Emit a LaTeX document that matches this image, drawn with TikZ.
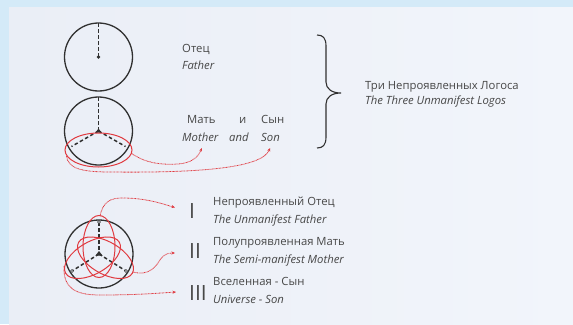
\documentclass[tikz,border=0pt]{standalone}
\usepackage{fontspec}
\setmainfont{Open Sans}
\usetikzlibrary{arrows.meta}
\definecolor{bandblue}{HTML}{D4EAF8}
\definecolor{panelL}{HTML}{EAEEF6}
\definecolor{panelR}{HTML}{F2F5FB}
\definecolor{ink}{HTML}{303030}
\definecolor{txt}{HTML}{474747}
\definecolor{redc}{HTML}{E03A40}
\begin{document}
\begin{tikzpicture}[x=1pt,y=-1pt,
  circ/.style={draw=ink, line width=1.3pt},
  dashln/.style={draw=ink, line width=1.5pt, dash pattern=on 3.5pt off 2.5pt},
  redell/.style={draw=redc, line width=1pt},
  redarrow/.style={draw=redc, line width=0.8pt, dash pattern=on 0.8pt off 0.6pt, -{Stealth[length=3.5pt,width=3pt]}},
  lbl/.style={anchor=base west, inner sep=0pt, text=txt, font=\fontsize{11.3}{13}\selectfont},
  ilbl/.style={anchor=base west, inner sep=0pt, text=txt, font=\fontsize{11.3}{13}\selectfont\itshape},
  roman/.style={anchor=base west, inner sep=0pt, text=txt, font=\fontsize{21}{21}\selectfont},
]
% background
\fill[bandblue] (0,0) rectangle (573,324);
\shade[left color=panelL, right color=panelR] (9,7) rectangle (573,324);
\useasboundingbox (0,0) rectangle (573,324);

% ---------- circle 1: Father
\coordinate (c1) at (98.5,57);
\draw[circ] (c1) circle[radius=34];
\path (c1) ++(0,-34) coordinate (t1);
\draw[dashln] (t1) -- (c1);
\fill[ink] (c1) circle[radius=1.8];

% ---------- circle 2: Mother and Son
\coordinate (c2) at (98.5,131);
\draw[circ] (c2) circle[radius=34];
\path (c2) ++(0,-34) coordinate (t2);
\path (c2) ++(-27,15.5) coordinate (l2);
\path (c2) ++(27,15.5) coordinate (r2);
\draw[dashln] (t2) -- (c2);
\draw[dashln] (c2) -- (l2);
\draw[dashln] (c2) -- (r2);
\fill[ink] (c2) ++(0,-2.5) -- ++(3,4) -- ++(-6,0) -- cycle;
\coordinate (e2) at (98.5,150);
\draw[redell] (e2) ellipse[x radius=33.5, y radius=17];

% ---------- circle 3: trefoil
\coordinate (c3) at (99,254);
\draw[circ] (c3) circle[radius=34];
\path (c3) ++(0,-32) coordinate (t3);
\path (c3) ++(-27,17) coordinate (l3);
\path (c3) ++(27,17) coordinate (r3);
\draw[dashln] (t3) -- (c3);
\draw[dashln] (c3) -- (l3);
\draw[dashln] (c3) -- (r3);
\foreach \p in {t3,l3,r3} \draw[ink, line width=0.7pt, fill=panelL] (\p) circle[radius=1.5];
\foreach \a in {0,120,240}
  \draw[redell, rotate around={\a:(c3)}] (99,246.5) ellipse[x radius=16, y radius=31];
\fill[ink] (c3) ++(0,-3) -- ++(3.5,4.5) -- ++(-7,0) -- cycle;

% ---------- upper labels
\node[lbl]  (otec)   at (182,52)  {Отец};
\node[ilbl] (father) at (182,69)  {Father};
\node[lbl]  (mat)    at (187,123) {Мать};
\node[lbl]  (iw)     at (239,123) {и};
\node[lbl]  (syn)    at (261,123) {Сын};
\node[ilbl] (mother) at (182,141) {Mother};
\node[ilbl] (andw)   at (229,141) {and};
\node[ilbl] (son)    at (261,141) {Son};
\node[lbl]  (tri)    at (365,89)  {Три Непроявленных Логоса};
\node[ilbl] (three)  at (365,104) {The Three Unmanifest Logos};

% brace
\draw[ink, line width=1.1pt] (317,35) .. controls (323,35) and (326,38) .. (326,46)
  -- (326,82) .. controls (326,89) and (332,93) .. (341,93)
  .. controls (332,93) and (326,97) .. (326,104)
  -- (326,137) .. controls (326,145) and (323,148) .. (317,148);

% upper arrows
\coordinate (aS) at (131,153);
\coordinate (aE) at (202,148);
\coordinate (bS) at (66.5,156);
\coordinate (bE) at (270,148);
\draw[redarrow] (aS) .. controls (145,163) and (160,165) .. (178,164)
  .. controls (192,163) and (198,157) .. (aE);
\draw[redarrow] (bS) .. controls (68,168) and (80,172) .. (110,172)
  .. controls (200,173) and (262,168) .. (bE);

% ---------- lower labels
\node[roman] (r1) at (189,218) {I};
\node[roman] (r2) at (189,258) {II};
\node[roman] (r3) at (189,300) {III};
\node[lbl]  (n1a) at (213,205) {Непроявленный Отец};
\node[ilbl] (n1b) at (213,223) {The Unmanifest Father};
\node[lbl]  (n2a) at (213,245) {Полупроявленная Мать};
\node[ilbl] (n2b) at (213,263) {The Semi-manifest Mother};
\node[lbl]  (n3a) at (213,285) {Вселенная - Сын};
\node[ilbl] (n3b) at (213,303) {Universe - Son};

% lower arrows
\coordinate (cS) at (100,216);
\coordinate (cE) at (175,207.5);
\coordinate (dS) at (133,272);
\coordinate (dE) at (175,253);
\coordinate (fS) at (64,266);
\coordinate (fE) at (176,292);
\draw[redarrow] (cS) .. controls (103,202) and (110,198) .. (122,198)
  .. controls (145,198) and (160,203) .. (cE);
\draw[redarrow] (dS) .. controls (148,276) and (155,268) .. (160,260)
  .. controls (164,254) and (168,253) .. (dE);
\draw[redarrow] (fS) .. controls (63,288) and (75,295) .. (100,295)
  .. controls (140,295) and (160,293) .. (fE);
\end{tikzpicture}
\end{document}
